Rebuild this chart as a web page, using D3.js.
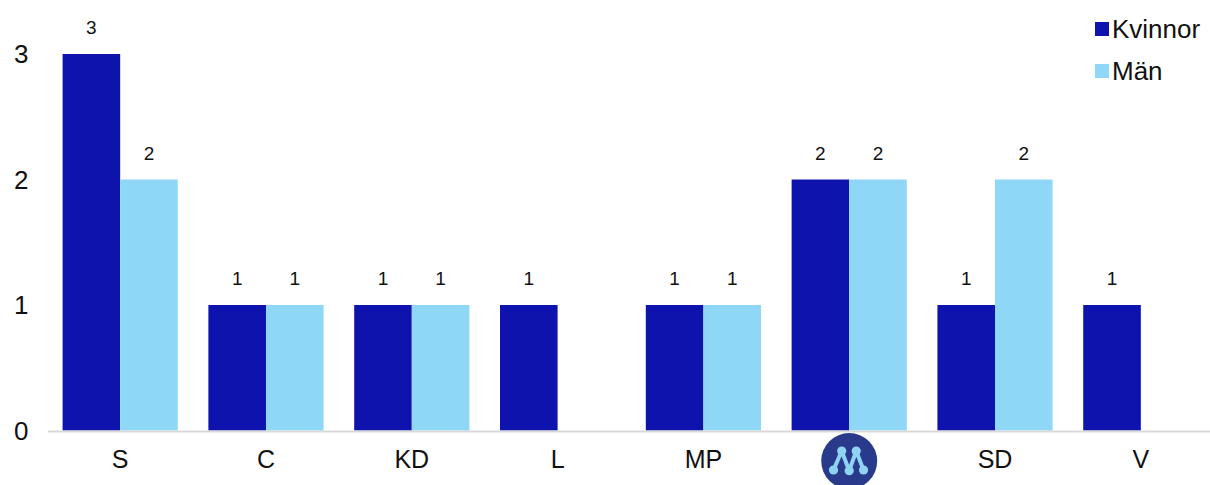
<!DOCTYPE html>
<html>
<head>
<meta charset="utf-8">
<script src="https://cdn.jsdelivr.net/npm/d3@7"></script>
<style>
  html, body { margin: 0; padding: 0; background: #fff; }
  svg { display: block; }
  text { font-family: "Liberation Sans", Arial, Helvetica, sans-serif; fill: #111; }
</style>
</head>
<body>
<svg id="chart" width="1210" height="485"></svg>
<script>
const categories = ["S", "C", "KD", "L", "MP", "M", "SD", "V"];
const kvinnor = [3, 1, 1, 1, 1, 2, 1, 1];
const man = [2, 1, 1, 0, 1, 2, 2, 0];
const seriesNames = ["Kvinnor", "Män"];
const yTicks = [0, 1, 2, 3];

const colors = ["#0e13ae", "#8fd7f7"];

const svg = d3.select("#chart");

const x = d3.scaleBand().domain(categories).range([48, 1213]).paddingInner(0.21).paddingOuter(0.1);
const xs = d3.scaleBand().domain(seriesNames).range([0, x.bandwidth()]);
const y = d3.scaleLinear().domain([0, 3]).range([430.5, 54]);

function stext(g, str, tx, ty, size, anchor) {
  return g.append("text")
    .attr("x", tx).attr("y", ty)
    .attr("text-anchor", anchor || "middle")
    .attr("font-size", size)
    .text(str);
}

const data = categories.map((c, i) => ({ cat: c, vals: [kvinnor[i], man[i]] }));

// Bars
const groups = svg.append("g").selectAll("g").data(data).join("g")
  .attr("transform", d => `translate(${x(d.cat)},0)`);

groups.selectAll("rect")
  .data(d => d.vals.map((v, j) => ({ v, s: seriesNames[j], j })).filter(e => e.v > 0))
  .join("rect")
  .attr("x", e => xs(e.s))
  .attr("width", xs.bandwidth())
  .attr("y", e => y(e.v))
  .attr("height", e => y(0) - y(e.v))
  .attr("fill", e => colors[e.j]);

// Value labels
const lbl = svg.append("g");
data.forEach(d => {
  d.vals.forEach((v, j) => {
    if (v > 0) {
      stext(lbl, String(v), x(d.cat) + xs(seriesNames[j]) + xs.bandwidth() / 2, y(v) - 20, 19);
    }
  });
});

// Baseline
svg.append("line")
  .attr("x1", 48).attr("x2", 1210)
  .attr("y1", y(0) + 1).attr("y2", y(0) + 1)
  .attr("stroke", "#d9d9d9").attr("stroke-width", 2);

// Y tick labels
const yg = svg.append("g");
yTicks.forEach(t => stext(yg, String(t), 28.5, y(t) + 9.3, 26, "end"));

// X category labels
const xg = svg.append("g");
categories.forEach(c => {
  const cx = x(c) + x.bandwidth() / 2;
  if (c === "M") {
    const logo = xg.append("g").attr("transform", `translate(${cx},461)`);
    logo.append("circle").attr("r", 28).attr("fill", "#293a8d");
    const pts = [[-15.7, 9], [-7.5, -10], [0, 9.7], [7, -10], [14.3, 9]];
    logo.append("path")
      .attr("d", d3.line()(pts))
      .attr("fill", "none").attr("stroke", "#8fd3f3").attr("stroke-width", 4)
      .attr("stroke-linejoin", "round");
    logo.selectAll("circle.n").data(pts).join("circle")
      .attr("class", "n")
      .attr("cx", p => p[0]).attr("cy", p => p[1]).attr("r", 4.6)
      .attr("fill", "#8fd3f3");
    logo.append("title").text(c);
  } else {
    stext(xg, c, cx, 468, 25);
  }
});

// Legend
const lg = svg.append("g");
seriesNames.forEach((s, i) => {
  const cy = 29 + i * 42;
  lg.append("rect").attr("x", 1095).attr("y", cy - 7).attr("width", 14).attr("height", 14).attr("fill", colors[i]);
  stext(lg, s, 1112, cy + 9, 26, "start");
});
</script>
</body>
</html>
